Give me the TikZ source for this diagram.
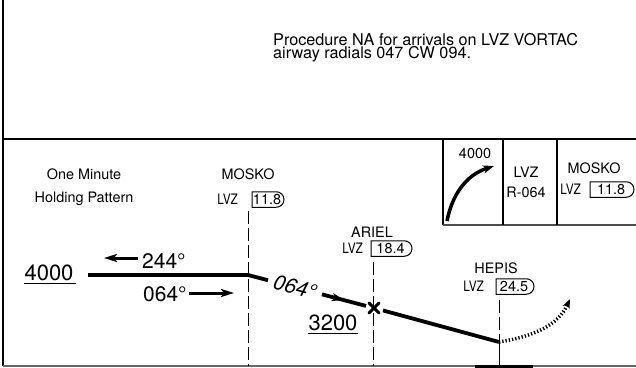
\documentclass[tikz,border=0pt]{standalone}
\usepackage{fontspec}
\setmainfont{TeX Gyre Heros}
\usetikzlibrary{arrows.meta,calc,shapes.misc,decorations.markings}
\begin{document}
\begin{tikzpicture}[x=1pt,y=-1pt,
  toptxt/.style={font=\fontsize{16.2}{17}\selectfont, inner sep=0pt},
  lbl/.style={font=\fontsize{14.4}{16}\selectfont, inner sep=0pt},
  lvz/.style={font=\fontsize{14.4}{16}\selectfont, inner sep=0pt, xscale=0.82, anchor=base east},
  big/.style={font=\fontsize{22}{24}\selectfont, inner sep=0pt},
  mid/.style={font=\fontsize{21}{23}\selectfont, inner sep=0pt},
  dist/.style={draw, line width=1pt, rounded rectangle, rounded rectangle left arc=none,
    font=\fontsize{14.4}{16}\selectfont, inner xsep=2pt, inner ysep=0pt, minimum height=15.5pt},
  fixline/.style={line width=1pt, dash pattern=on 13pt off 4pt},
  track/.style={line width=3.8pt},
  headarrow/.style={line width=3pt, -{Stealth[length=13pt,width=8pt,inset=3pt]}},
  uline/.style={line width=1pt},
]
\useasboundingbox (0,0) rectangle (636,367);

% frame
\draw[line width=2pt] (3,0) -- (3,366);
\draw[line width=2.4pt] (3,139) -- (636,139);
\draw[line width=1.8pt, black!60] (3,366) -- (636,366);
\draw[line width=3pt] (475,366) -- (533,366);

% top note
\node[toptxt, anchor=base west] (t1) at (273,45) {Procedure NA for arrivals on LVZ VORTAC};
\node[toptxt, anchor=base west] (t2) at (273,58.5) {airway radials 047 CW 094.};

% top-right panel
\draw[line width=1.2pt] (443,139) -- (443,225);
\draw[line width=1.2pt, black!70] (443,225) -- (636,225);
\draw[line width=1.2pt] (503,139) -- (503,225);
\draw[line width=1.2pt] (557,139) -- (557,225);
\node[lbl, anchor=base] (p4000) at (475,158.5) {4000};
\coordinate (climbA) at (447,221);
\coordinate (climbB) at (494,166);
\draw[line width=3.5pt, -{Stealth[length=11pt,width=8pt,inset=3pt]}] (climbA) .. controls (452,195) and (466,175) .. (climbB);
\node[lbl, anchor=base] (plvz) at (526,177) {LVZ};
\node[lbl, anchor=base] (pr064) at (526,197) {R-064};
\node[lbl, anchor=base] (pmosko) at (594,173.5) {MOSKO};
\node[dist, minimum width=48pt] (pbox) at (611,189.5) {11.8};
\node[lvz] (plvz2) at (581,194.5) {LVZ};

% holding label
\node[lbl, anchor=base] (h1) at (84,179) {One Minute};
\node[lbl, anchor=base] (h2) at (84,202) {Holding Pattern};

% fixes
\node[lbl, anchor=base] (mname) at (248,179) {MOSKO};
\node[dist, minimum width=36pt] (mbox) at (267,199.5) {11.8};
\node[lvz] (mlvz) at (238,204.5) {LVZ};

\node[lbl, anchor=base] (aname) at (372,237) {ARIEL};
\node[dist, minimum width=45pt] (abox) at (390.5,248.5) {18.4};
\node[lvz] (alvz) at (363,253.5) {LVZ};

\node[lbl, anchor=base] (hname) at (496,273) {HEPIS};
\node[dist, minimum width=42pt] (hbox) at (514,286.5) {24.5};
\node[lvz] (hlvz) at (484,291.5) {LVZ};

% fix lines
\coordinate (mtop) at (248,211);
\coordinate (mbot) at (248,366);
\coordinate (atop) at (373,262);
\coordinate (abot) at (373,366);
\coordinate (htop) at (499,300);
\coordinate (hbot) at (499,366);
\draw[fixline] (mtop) -- (mbot);
\draw[fixline] (atop) -- (abot);

% track
\coordinate (hold) at (88,275);
\coordinate (mosko) at (248,275);
\coordinate (ariel) at (374,308);
\coordinate (hepis) at (499,342);
\draw[fixline] (htop) -- (hepis);
\draw[line width=1pt] (hepis) -- (hbot);

\draw[track] (hold) -- (mosko) -- ($(mosko)!0.159!(ariel)$);
\draw[track, postaction={decorate},
  decoration={markings, mark=at position 0.5 with {\arrow{Stealth[length=12pt,width=8pt,inset=3pt]}}}]
  ($(mosko)!0.587!(ariel)$) -- ($(mosko)!0.937!(ariel)$);
\draw[track] ($(ariel)!0.072!(hepis)$) -- (hepis);
\draw[line width=3pt, line cap=round] ($(ariel)+(-5,-5)$) -- ($(ariel)+(5,5)$)
  ($(ariel)+(-5,5)$) -- ($(ariel)+(5,-5)$);

\node[mid, rotate=-15, font=\fontsize{21}{23}\selectfont\itshape] (c064) at (295,287) {064°};

% holding
\node[big, anchor=base] (alt4000) at (49,280.5) {4000};
\draw[uline] (alt4000.base west) ++(0,3) -- ++(52,0);
\node[mid, anchor=base west] (in244) at (142,268) {244°};
\coordinate (a244s) at (138,258);
\coordinate (a244e) at (104,258);
\draw[headarrow] (a244s) -- (a244e);
\node[mid, anchor=base west] (out064) at (143,301.5) {064°};
\coordinate (a064s) at (189,293);
\coordinate (a064e) at (234,293);
\draw[headarrow] (a064s) -- (a064e);

\node[big, anchor=base] (alt3200) at (333,330) {3200};
\draw[uline] (alt3200.base west) ++(0,3) -- ++(50,0);

% turn
\coordinate (turnend) at (570,299);
\draw[line width=3.5pt, dash pattern=on 1.3pt off 2pt, -{Stealth[length=9pt,width=7pt,inset=2pt]}]
  (hepis) .. controls (535,336) and (558,325) .. (turnend);
\end{tikzpicture}
\end{document}
